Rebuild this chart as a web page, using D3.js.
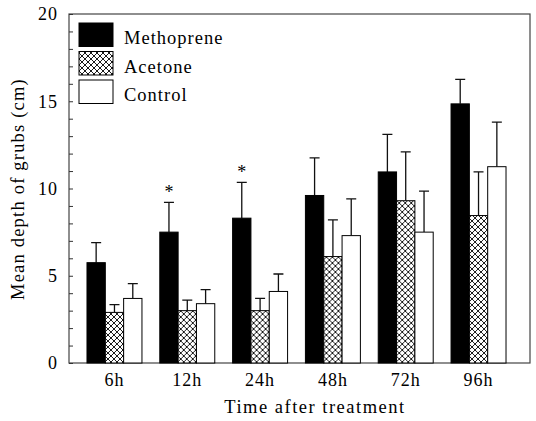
<!DOCTYPE html>
<html>
<head>
<meta charset="utf-8">
<script src="https://cdn.jsdelivr.net/npm/d3@7"></script>
<style>
  body { margin: 0; background: #fff; }
  text { font-family: "Liberation Serif", "Times New Roman", "DejaVu Serif", serif; fill: #000; }
</style>
</head>
<body>
<div id="chart"></div>
<script>
// data
const groups = ["6h", "12h", "24h", "48h", "72h", "96h"];
const seriesNames = ["Methoprene", "Acetone", "Control"];
const methoprene = [5.75, 7.5, 8.3, 9.6, 10.95, 14.85];
const methopreneErr = [1.15, 1.7, 2.05, 2.15, 2.15, 1.4];
const acetone = [2.9, 3.0, 3.0, 6.1, 9.3, 8.45];
const acetoneErr = [0.45, 0.6, 0.7, 2.1, 2.8, 2.5];
const control = [3.7, 3.4, 4.1, 7.3, 7.5, 11.25];
const controlErr = [0.85, 0.8, 1.0, 2.1, 2.35, 2.55];
const signif = ["", "*", "*", "", "", ""];
const yLabels = [0, 5, 10, 15, 20];

const margin = {top: 14, right: 6, bottom: 58, left: 69},
      width = 536 - margin.left - margin.right,
      height = 421 - margin.top - margin.bottom;

const svg = d3.select("#chart").append("svg")
    .attr("width", 536)
    .attr("height", 421);

// crosshatch for acetone
const pat = svg.append("defs").append("pattern")
    .attr("id", "hatch")
    .attr("patternUnits", "userSpaceOnUse")
    .attr("width", 6).attr("height", 6);
pat.append("rect").attr("width", 6).attr("height", 6).attr("fill", "#fff");
pat.append("path").attr("d", "M0,0L6,6M6,0L0,6")
    .attr("stroke", "#000").attr("stroke-width", 0.9);

const fills = ["#000", "url(#hatch)", "#fff"];

const g = svg.append("g")
    .attr("transform", `translate(${margin.left},${margin.top})`);

const data = groups.map((k, i) => ({
    group: k,
    sig: signif[i],
    bars: [
        {s: 0, v: methoprene[i], e: methopreneErr[i]},
        {s: 1, v: acetone[i], e: acetoneErr[i]},
        {s: 2, v: control[i], e: controlErr[i]}
    ]
}));

const x = d3.scaleBand()
    .domain(groups)
    .range([0, 455])
    .paddingInner(0.245)
    .paddingOuter(0.247);

const xs = d3.scaleBand()
    .domain([0, 1, 2])
    .range([0, x.bandwidth()]);

const y = d3.scaleLinear()
    .domain([0, 20])
    .range([height, 0]);

// frame
g.append("rect")
    .attr("width", width)
    .attr("height", height)
    .attr("fill", "none")
    .attr("stroke", "#444")
    .attr("stroke-width", 1.2);

const grp = g.selectAll(".grp")
    .data(data)
    .enter().append("g")
    .attr("transform", d => `translate(${x(d.group)},0)`);

// error bars first, bars drawn over them
grp.selectAll(".err")
    .data(d => d.bars)
    .enter().append("path")
    .attr("fill", "none")
    .attr("stroke", "#111")
    .attr("stroke-width", 1.3)
    .attr("d", b => {
        const cx = xs(b.s) + xs.bandwidth() / 2;
        const top = y(b.v + b.e);
        return `M${cx},${y(b.v)}V${top}M${cx - 5},${top}H${cx + 5}`;
    });

grp.selectAll(".bar")
    .data(d => d.bars)
    .enter().append("rect")
    .attr("x", b => xs(b.s))
    .attr("y", b => y(b.v))
    .attr("width", xs.bandwidth())
    .attr("height", b => height - y(b.v))
    .attr("fill", b => fills[b.s])
    .attr("stroke", "#000")
    .attr("stroke-width", 1);

// asterisks above methoprene
grp.filter(d => d.sig)
    .append("text")
    .attr("x", xs(0) + xs.bandwidth() / 2)
    .attr("y", d => y(d.bars[0].v + d.bars[0].e) - 4)
    .attr("text-anchor", "middle")
    .attr("font-size", 18)
    .text(d => d.sig);

// y axis: inward minor ticks, labels outside
g.append("g")
    .call(d3.axisRight(y).ticks(20).tickSize(4).tickFormat(""))
    .call(a => a.select(".domain").remove())
    .selectAll("line").attr("stroke", "#333");

g.append("g")
    .call(d3.axisLeft(y).tickValues(yLabels).tickSize(0).tickPadding(11))
    .call(a => a.select(".domain").remove())
    .selectAll("text")
    .attr("font-size", 18)
    .attr("letter-spacing", 1);

// x axis labels
g.append("g")
    .attr("transform", `translate(0,${height})`)
    .call(d3.axisBottom(x).tickSize(0).tickPadding(10))
    .call(a => a.select(".domain").remove())
    .selectAll("text")
    .attr("font-size", 18)
    .attr("letter-spacing", 1);

// axis titles
svg.append("text")
    .attr("x", margin.left + 246)
    .attr("y", 413)
    .attr("text-anchor", "middle")
    .attr("font-size", 18.5)
    .attr("letter-spacing", 1.5)
    .text("Time after treatment");

svg.append("text")
    .attr("transform", "translate(24,189) rotate(-90)")
    .attr("text-anchor", "middle")
    .attr("font-size", 18.5)
    .attr("letter-spacing", 1.2)
    .text("Mean depth of grubs (cm)");

// legend
const leg = svg.append("g").attr("transform", "translate(79,23)");
seriesNames.forEach((n, i) => {
    leg.append("rect")
        .attr("x", 0)
        .attr("y", i * 28.5)
        .attr("width", 34)
        .attr("height", 23.5)
        .attr("fill", fills[i])
        .attr("stroke", "#000")
        .attr("stroke-width", 1);
    leg.append("text")
        .attr("x", 45)
        .attr("y", i * 28.5 + 21)
        .attr("font-size", 18.5)
        .attr("letter-spacing", 1)
        .text(n);
});
</script>
</body>
</html>
